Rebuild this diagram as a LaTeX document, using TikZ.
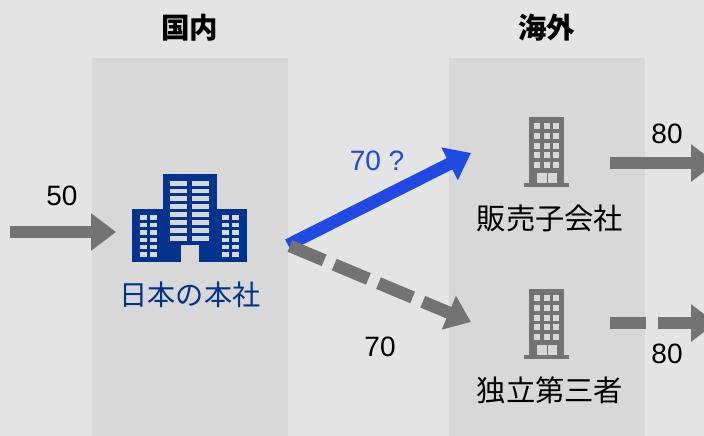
\documentclass[tikz,border=0pt]{standalone}
\usepackage{fontspec}
\setmainfont{Liberation Sans}
\newfontfamily\cjk{Noto Sans CJK JP}
\usetikzlibrary{arrows.meta}
\definecolor{bg}{HTML}{E4E4E4}
\definecolor{panel}{HTML}{D8D8D8}
\definecolor{flow}{HTML}{737373}
\definecolor{navy}{HTML}{00338D}
\definecolor{vivid}{HTML}{1E49E2}
\tikzset{
  x=1pt,y=-1pt,
  lbl/.style={inner sep=0pt,font=\fontsize{28}{32}\selectfont},
  jp/.style={inner sep=0pt,font=\fontsize{28.2}{32}\selectfont\cjk},
  jpb/.style={inner sep=0pt,font=\fontsize{29.3}{32}\selectfont\cjk},
  head/.style={inner sep=0pt,font=\fontsize{28.5}{32}\selectfont\cjk\bfseries},
  flowline/.style={draw=flow,line width=12.5pt,-{Triangle[length=25pt,width=36pt,fill=flow]}},
  diagline/.style={line width=12.5pt,-{Triangle[length=24pt,width=35pt]}},
  pics/tower/.style={code={
    \fill[flow] (5,0) rectangle (40,66);
    \fill[flow] (0,66) rectangle (45,70);
    \foreach \cx in {10,19.5,29}{\foreach \cy in {6,16,26,35,45}{
      \fill[panel] (\cx,\cy) rectangle ++(6,6);}}
    \fill[panel] (13,56) rectangle (22.5,66);
    \fill[panel] (23.5,56) rectangle (33,66);
  }}
}
\begin{document}
\begin{tikzpicture}
\useasboundingbox (0,0) rectangle (704,436);
\clip (0,0) rectangle (704,436);
\fill[bg] (0,0) rectangle (704,436);
\fill[panel] (92,58) rectangle (288,436);
\fill[panel] (449,58) rectangle (645,436);

\node[head] (domestic) at (189.5,28) {国内};
\node[head] (overseas) at (546.5,28) {海外};

% head-office building
\fill[navy] (163,174) rectangle (217,262);
\fill[navy] (132,209) rectangle (247,262);
\foreach \cy in {181,188.5,196,204,212,220,228,236}{
  \fill[panel] (170,\cy) rectangle ++(17,4.5);
  \fill[panel] (192,\cy) rectangle ++(17,4.5);
}
\foreach \cy in {215,222.5,230,237.5,244.5,252}{
  \fill[panel] (140,\cy) rectangle ++(7,4.5);
  \fill[panel] (149.5,\cy) rectangle ++(7,4.5);
  \fill[panel] (222,\cy) rectangle ++(7,4.5);
  \fill[panel] (232,\cy) rectangle ++(7,4.5);
}
\fill[panel] (180.5,245) rectangle (199,262);
\node[jp,text=navy] (hq) at (190,295) {日本の本社};

% subsidiaries
\pic at (524,117) {tower};
\pic at (524,289) {tower};
\node[jpb] (sales) at (550,218) {販売子会社};
\node[jpb] (third) at (550,390) {独立第三者};

% connector end points
\coordinate (inS) at (10,232);
\coordinate (inE) at (116,232);
\coordinate (hubA) at (288,245);
\coordinate (hubB) at (290,246);
\coordinate (toSales) at (471,153);
\coordinate (toThird) at (471,322);
\coordinate (outAS) at (610,163);
\coordinate (outAE) at (716,163);
\coordinate (outBS) at (610,323);
\coordinate (outBE) at (716,323);

\draw[flowline] (inS) -- (inE);
\draw[diagline,draw=vivid] (hubA) -- (toSales);
\draw[diagline,draw=flow,dash pattern=on 37pt off 11pt] (hubB) -- (toThird);
\draw[flowline] (outAS) -- (outAE);
\draw[flowline,dash pattern=on 36pt off 12pt] (outBS) -- (outBE);

\node[lbl] (n50) at (62,196) {50};
\node[lbl,text=vivid] (n70q) at (377,161) {70 ?};
\node[lbl] (n70) at (380,347) {70};
\node[lbl] (n80a) at (667,134) {80};
\node[lbl] (n80b) at (667,354) {80};
\end{tikzpicture}
\end{document}
